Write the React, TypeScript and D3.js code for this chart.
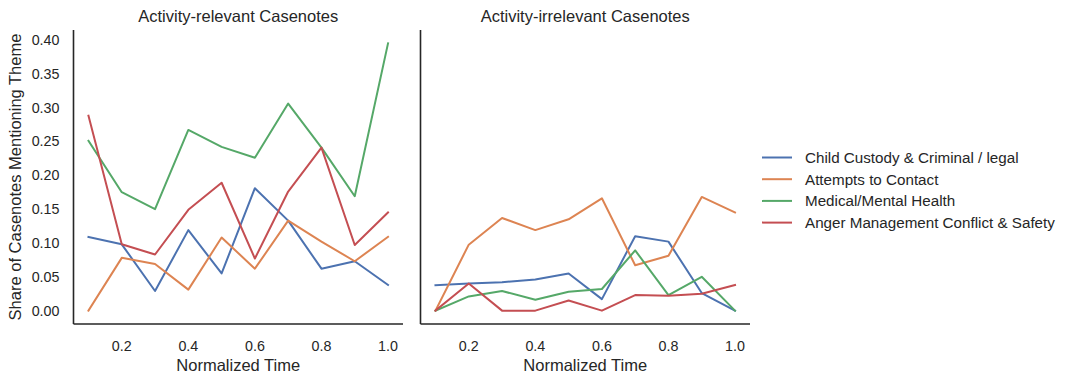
import React from "react";
import * as d3 from "d3";

const times = [0.1, 0.2, 0.3, 0.4, 0.5, 0.6, 0.7, 0.8, 0.9, 1.0];
const themes = [
  "Child Custody & Criminal / legal",
  "Attempts to Contact",
  "Medical/Mental Health",
  "Anger Management Conflict & Safety",
];
const colors = ["#4C72B0", "#DD8452", "#55A868", "#C44E52"];
const panelTitles = ["Activity-relevant Casenotes", "Activity-irrelevant Casenotes"];

// Activity-relevant
const relChild = [0.109, 0.098, 0.029, 0.119, 0.055, 0.181, 0.133, 0.062, 0.073, 0.038];
const relContact = [0.0, 0.078, 0.069, 0.031, 0.108, 0.062, 0.133, 0.102, 0.073, 0.109];
const relMedical = [0.251, 0.175, 0.15, 0.267, 0.242, 0.226, 0.306, 0.241, 0.169, 0.395];
const relAnger = [0.288, 0.098, 0.083, 0.149, 0.189, 0.077, 0.176, 0.241, 0.097, 0.145];

// Activity-irrelevant
const irrChild = [0.0375, 0.04, 0.042, 0.046, 0.055, 0.017, 0.11, 0.102, 0.026, 0.0];
const irrContact = [0.0, 0.0975, 0.137, 0.119, 0.135, 0.166, 0.067, 0.081, 0.168, 0.145];
const irrMedical = [0.0, 0.021, 0.029, 0.016, 0.028, 0.032, 0.089, 0.023, 0.05, 0.0];
const irrAnger = [0.0, 0.04, 0.0, 0.0, 0.015, 0.0, 0.023, 0.022, 0.025, 0.038];

const xTicks = [0.2, 0.4, 0.6, 0.8, 1.0];
const yTicks = [0.0, 0.05, 0.1, 0.15, 0.2, 0.25, 0.3, 0.35, 0.4];

const panels = [
  { title: panelTitles[0], series: [relChild, relContact, relMedical, relAnger], left: 73.5, right: 403 },
  { title: panelTitles[1], series: [irrChild, irrContact, irrMedical, irrAnger], left: 420.5, right: 750 },
];

const FONT = "'Liberation Sans', Arial, Helvetica, sans-serif";
const TEXT = "#262626";
const TOP = 30;
const BOTTOM = 324;

export default function App() {
  const all = [relChild, relContact, relMedical, relAnger, irrChild, irrContact, irrMedical, irrAnger].flat();
  const yMin = d3.min(all)!;
  const yMax = d3.max(all)!;
  const yPad = (yMax - yMin) * 0.05;
  const y = d3.scaleLinear().domain([yMin - yPad, yMax + yPad]).range([BOTTOM, TOP]);
  const xMin = d3.min(times)!;
  const xMax = d3.max(times)!;
  const xPad = (xMax - xMin) * 0.05;

  return (
    <svg
      width={1069}
      height={383}
      style={{ position: "absolute", left: 0, top: 0, background: "#fff" }}
      fontFamily={FONT}
    >
      {panels.map((p, pi) => {
        const x = d3.scaleLinear().domain([xMin - xPad, xMax + xPad]).range([p.left, p.right]);
        const line = d3
          .line<number>()
          .x((_, i) => x(times[i]))
          .y((d) => y(d));
        return (
          <g key={pi}>
            <text x={(p.left + p.right) / 2} y={22} textAnchor="middle" fontSize={16.5} fill={TEXT}>
              {p.title}
            </text>
            {p.series.map((s, si) => (
              <path key={si} d={line(s)!} fill="none" stroke={colors[si]} strokeWidth={2} strokeLinejoin="round" strokeLinecap="square" />
            ))}
            <line x1={p.left} x2={p.left} y1={TOP} y2={BOTTOM} stroke={TEXT} strokeWidth={1.6} />
            <line x1={p.left} x2={p.right} y1={BOTTOM} y2={BOTTOM} stroke={TEXT} strokeWidth={1.6} />
            {xTicks.map((t) => (
              <text key={t} x={x(t)} y={351} textAnchor="middle" fontSize={14.3} fill={TEXT}>
                {t.toFixed(1)}
              </text>
            ))}
            <text x={(p.left + p.right) / 2} y={371} textAnchor="middle" fontSize={16.5} fill={TEXT}>
              Normalized Time
            </text>
            {pi === 0 &&
              yTicks.map((t) => (
                <text key={t} x={59.5} y={y(t) + 5} textAnchor="end" fontSize={14.3} fill={TEXT}>
                  {t.toFixed(2)}
                </text>
              ))}
            {pi === 0 && (
              <text
                transform={`translate(20.5, ${(TOP + BOTTOM) / 2}) rotate(-90)`}
                textAnchor="middle"
                fontSize={16.5}
                fill={TEXT}
              >
                Share of Casenotes Mentioning Theme
              </text>
            )}
          </g>
        );
      })}
      {themes.map((t, i) => {
        const yy = 157.5 + i * 21.7;
        return (
          <g key={t}>
            <line x1={762} x2={792} y1={yy} y2={yy} stroke={colors[i]} strokeWidth={2} />
            <text x={805} y={yy + 5.5} fontSize={15.2} fill={TEXT}>
              {t}
            </text>
          </g>
        );
      })}
    </svg>
  );
}
